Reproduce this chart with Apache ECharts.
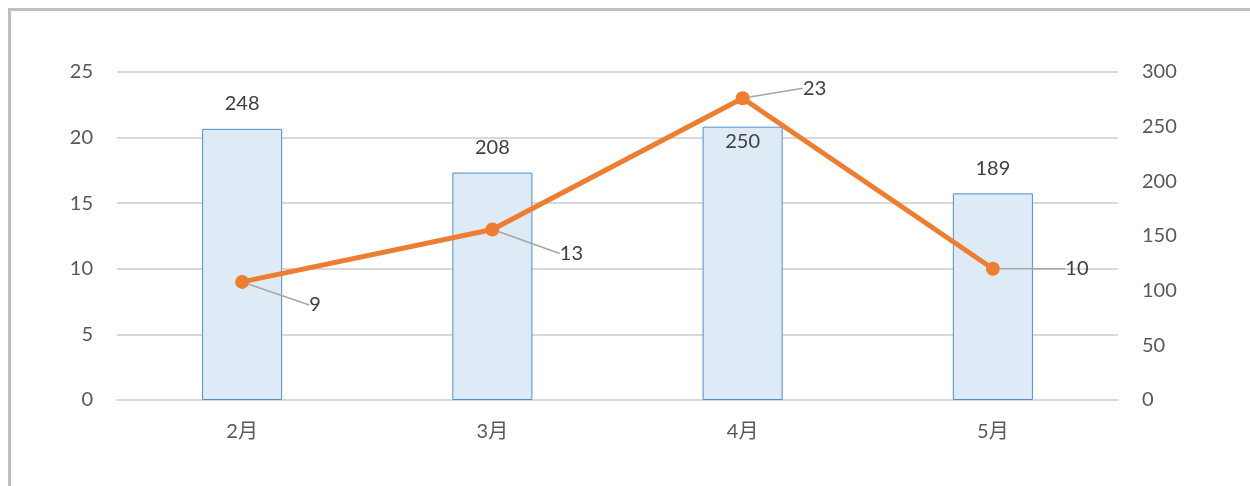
<!DOCTYPE html>
<html>
<head>
<meta charset="utf-8">
<script src="https://cdn.jsdelivr.net/npm/echarts@6/dist/echarts.min.js"></script>
<style>
  html, body { margin: 0; padding: 0; background: #fff; }
  #main { width: 1250px; height: 486px; }
  #frame {
    position: absolute; left: 8px; top: 8px; right: 0; bottom: 0;
    border-left: 3px solid #c0c0c0; border-top: 3px solid #c0c0c0;
    pointer-events: none;
  }
</style>
</head>
<body>
<div id="main"></div>
<div id="frame"></div>
<script>
const months = ["2月", "3月", "4月", "5月"];
const barValues = [248, 208, 250, 189];
const lineValues = [9, 13, 23, 10];
// where Excel put each line label, offset from its point
const lineLabelShift = [[73, 23], [79, 24], [72, -10], [84, 0]];

const fontFamily = 'Lato, "Noto Sans CJK SC", sans-serif';
const textColor = "#595959";

let myChart = echarts.init(document.getElementById("main"));

let option = {
  backgroundColor: "#fff",
  textStyle: { fontFamily: fontFamily },
  grid: { left: 117, right: 132, top: 72, bottom: 86 },
  xAxis: {
    type: "category",
    data: months,
    axisLine: { lineStyle: { color: "#d9d9d9", width: 2 } },
    axisTick: { show: false },
    axisLabel: { color: textColor, fontSize: 20, margin: 22, fontFamily: fontFamily }
  },
  yAxis: [
    {
      type: "value",
      min: 0, max: 25, interval: 5,
      axisLine: { show: false },
      axisTick: { show: false },
      splitLine: { lineStyle: { color: "#d9d9d9", width: 2 } },
      axisLabel: { color: textColor, fontSize: 20, margin: 24, fontFamily: fontFamily }
    },
    {
      type: "value",
      min: 0, max: 300, interval: 50,
      axisLine: { show: false },
      axisTick: { show: false },
      splitLine: { show: false },
      axisLabel: { color: textColor, fontSize: 20, margin: 24, fontFamily: fontFamily }
    }
  ],
  series: [
    {
      name: "bar",
      type: "bar",
      yAxisIndex: 1,
      barWidth: "32%",
      itemStyle: { color: "#deebf7", borderColor: "#4f8fcf", borderWidth: 1 },
      label: {
        show: true,
        position: "top",
        distance: 15,
        color: "#404040",
        fontSize: 20,
        fontFamily: fontFamily
      },
      data: barValues.map((v, i) => i === 2
        ? { value: v, label: { position: "insideTop", distance: 5 } }
        : v),
      z: 1
    },
    {
      name: "line",
      type: "line",
      yAxisIndex: 0,
      symbol: "circle",
      symbolSize: 14,
      lineStyle: { color: "#ed7d31", width: 5 },
      itemStyle: { color: "#ed7d31" },
      label: {
        show: true,
        position: "inside",
        color: "#404040",
        fontSize: 20,
        padding: [0, 8],
        fontFamily: fontFamily
      },
      labelLine: { show: true, lineStyle: { color: "#a6a6a6", width: 1.5 } },
      labelLayout: function (params) {
        const s = lineLabelShift[params.dataIndex];
        return { dx: s[0], dy: s[1] };
      },
      data: lineValues,
      z: 3
    }
  ]
};

myChart.setOption(option);
</script>
</body>
</html>
